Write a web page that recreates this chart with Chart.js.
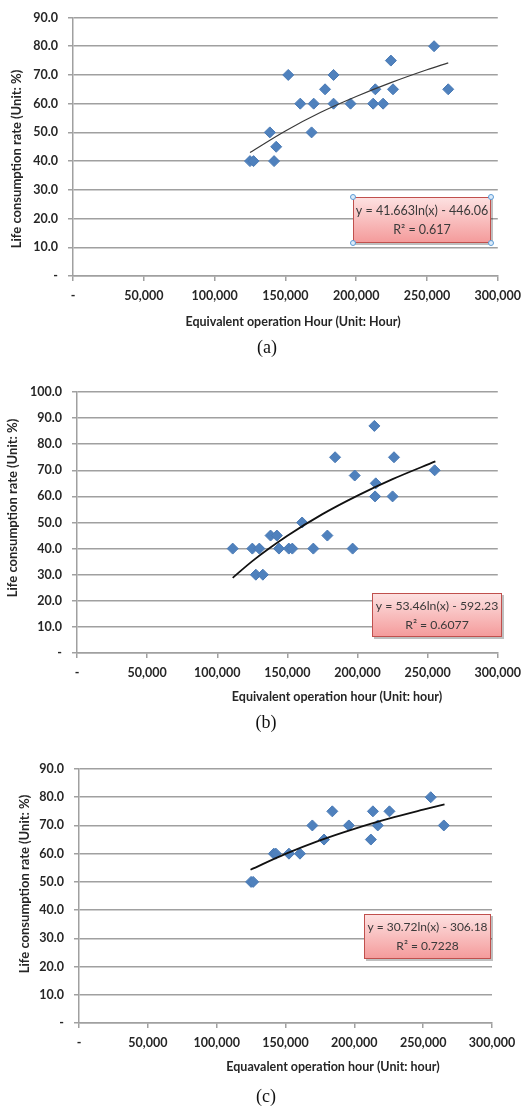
<!DOCTYPE html>
<html lang="en">
<head>
  <meta charset="UTF-8" />
  <title>Life consumption rate vs equivalent operation hour</title>
  <script src="https://cdn.jsdelivr.net/npm/chart.js"></script>
  <style>
    body {
      margin: 0;
      background: #ffffff;
      width: 528px;
      height: 1108px;
      position: relative;
      overflow: hidden;
    }
    canvas {
      position: absolute;
      left: 0;
    }
    .caption {
      position: absolute;
      width: 60px;
      text-align: center;
      font-family: "Liberation Serif", "Times New Roman", serif;
      font-size: 18px;
      color: #111;
      line-height: 20px;
    }
  </style>
</head>
<body>

  <canvas id="chartA" width="528" height="360" style="top:0px"></canvas>
  <canvas id="chartB" width="528" height="370" style="top:360px"></canvas>
  <canvas id="chartC" width="528" height="378" style="top:730px"></canvas>

  <div class="caption" style="left:237px; top:337px">(a)</div>
  <div class="caption" style="left:236px; top:712px">(b)</div>
  <div class="caption" style="left:236px; top:1086px">(c)</div>

  <script>
    // (a) measured points
    const aHours = [125000, 127500, 139000, 142000, 143500, 152000, 160500, 168500, 170000, 178000,
                    184000, 184000, 196000, 212000, 213500, 219000, 224500, 226000, 255000, 265000];
    const aRate  = [40, 40, 50, 40, 45, 70, 60, 50, 60, 65,
                    70, 60, 60, 60, 65, 60, 75, 65, 80, 65];
    const aTrendHours = [125000, 150000, 175000, 200000, 225000, 250000, 265000];
    const aTrendRate  = [43.0, 50.5, 57.0, 62.5, 67.4, 71.8, 74.2];

    // (b) measured points
    const bHours = [111000, 125000, 130000, 127500, 132500, 138000, 142500, 144000, 151000, 153500,
                    160500, 168500, 178500, 184000, 196500, 198000, 212000, 212500, 213000, 225000,
                    226000, 255000];
    const bRate  = [40, 40, 40, 30, 30, 45, 45, 40, 40, 40,
                    50, 40, 45, 75, 40, 68, 87, 60, 65, 60,
                    75, 70];
    const bTrendHours = [111000, 125000, 150000, 175000, 200000, 225000, 255500];
    const bTrendRate  = [28.8, 35.2, 44.9, 53.2, 60.3, 66.6, 73.4];

    // (c) measured points
    const cHours = [125000, 126500, 141500, 143000, 152500, 160500, 169500, 178000, 184000, 196000,
                    212000, 213500, 217000, 225500, 255500, 265000];
    const cRate  = [50, 50, 60, 60, 60, 60, 70, 65, 75, 70,
                    65, 75, 70, 75, 80, 70];
    const cTrendHours = [124600, 150000, 175000, 200000, 225000, 250000, 265500];
    const cTrendRate  = [54.3, 59.9, 64.7, 68.8, 72.4, 75.6, 77.5];

    const xTicks = [0, 50000, 100000, 150000, 200000, 250000, 300000];
    const yTitle = 'Life consumption rate (Unit: %)';

    const toPoints = (xs, ys) => xs.map((x, i) => ({ x: x, y: ys[i] }));

    const fontFamily = 'Lato, "Open Sans", sans-serif';
    const labelFont = { family: fontFamily, size: 12.5, weight: 'bold' };
    const gridGray = '#a0a0a0';

    // axis titles and the trendline equation box
    const extrasPlugin = {
      id: 'extras',
      afterDraw(chart, args, opts) {
        const ctx = chart.ctx;
        ctx.save();
        ctx.fillStyle = '#262626';
        ctx.textAlign = 'center';
        ctx.textBaseline = 'middle';
        ctx.font = 'bold 12.5px ' + fontFamily;
        ctx.fillText(opts.xTitle.text, opts.xTitle.x, opts.xTitle.y);
        ctx.save();
        ctx.font = 'bold 13px ' + fontFamily;
        ctx.translate(opts.yTitle.x, opts.yTitle.y);
        ctx.rotate(-Math.PI / 2);
        ctx.fillText(opts.yTitle.text, 0, 0);
        ctx.restore();

        const b = opts.box;
        ctx.fillStyle = 'rgba(0,0,0,0.25)';
        ctx.fillRect(b.x + 2, b.y + 2, b.w, b.h);
        const g = ctx.createLinearGradient(0, b.y, 0, b.y + b.h);
        g.addColorStop(0, '#fde2e2');
        g.addColorStop(1, '#f49a9a');
        ctx.fillStyle = g;
        ctx.fillRect(b.x, b.y, b.w, b.h);
        ctx.strokeStyle = '#c0504d';
        ctx.lineWidth = 1;
        ctx.strokeRect(b.x + 0.5, b.y + 0.5, b.w - 1, b.h - 1);

        // shrink the equation text until it fits inside the box
        let size = 14;
        ctx.font = size + 'px ' + fontFamily;
        while (size > 9 && ctx.measureText(b.lines[0]).width > b.w - 5) {
          size -= 0.25;
          ctx.font = size + 'px ' + fontFamily;
        }
        ctx.fillStyle = '#3a3a3a';
        b.lines.forEach((t, i) => {
          ctx.fillText(t, b.x + b.w / 2, b.y + b.h * (i === 0 ? 0.3 : 0.72));
        });
        if (b.handles) {
          ctx.fillStyle = '#dcebfa';
          ctx.strokeStyle = '#5b9bd5';
          [[b.x, b.y], [b.x + b.w, b.y], [b.x, b.y + b.h], [b.x + b.w, b.y + b.h]].forEach(p => {
            ctx.beginPath();
            ctx.arc(p[0], p[1], 2.5, 0, Math.PI * 2);
            ctx.fill();
            ctx.stroke();
          });
        }
        ctx.restore();
      }
    };

    function makeChart(id, cfg) {
      const ctx = document.getElementById(id).getContext('2d');
      return new Chart(ctx, {
        type: 'scatter',
        data: {
          datasets: [
            {
              label: 'Log trend',
              type: 'line',
              data: toPoints(cfg.trendX, cfg.trendY),
              borderColor: cfg.trendColor,
              borderWidth: cfg.trendWidth,
              pointRadius: 0,
              fill: false,
              cubicInterpolationMode: 'monotone'
            },
            {
              label: 'Life consumption rate',
              data: toPoints(cfg.hours, cfg.rate),
              pointStyle: 'rectRot',
              pointRadius: 5.5,
              pointHoverRadius: 5.5,
              backgroundColor: '#4f81bd',
              borderColor: '#4a7ab5',
              borderWidth: 1
            }
          ]
        },
        options: {
          responsive: false,
          animation: false,
          layout: { padding: { left: 0, top: cfg.top, right: cfg.right, bottom: 0 } },
          plugins: {
            legend: { display: false },
            tooltip: { enabled: false },
            extras: cfg.extras
          },
          scales: {
            x: {
              type: 'linear',
              min: 0,
              max: 300000,
              afterBuildTicks: s => { s.ticks = xTicks.map(v => ({ value: v })); },
              afterFit: s => { s.height = cfg.xHeight; },
              ticks: {
                color: '#262626',
                font: labelFont,
                padding: 7,
                maxRotation: 0,
                callback: v => v === 0 ? '-' : v.toLocaleString('en-US')
              },
              grid: { drawOnChartArea: false, color: gridGray, lineWidth: 1.5, tickLength: 5 },
              border: { color: gridGray, width: 1.5 }
            },
            y: {
              min: 0,
              max: cfg.yMax,
              afterFit: s => { s.width = cfg.yWidth; },
              ticks: {
                stepSize: 10,
                color: '#262626',
                font: labelFont,
                padding: 10,
                callback: v => v === 0 ? '-' : v.toFixed(1)
              },
              grid: { color: gridGray, lineWidth: 1.5, tickLength: 5 },
              border: { color: gridGray, width: 1.5 }
            }
          }
        },
        plugins: [extrasPlugin]
      });
    }

    makeChart('chartA', {
      hours: aHours, rate: aRate, trendX: aTrendHours, trendY: aTrendRate,
      trendColor: '#3a3a3a', trendWidth: 1.2, yMax: 90,
      top: 12, right: 28, yWidth: 73, xHeight: 84,
      extras: {
        xTitle: { text: 'Equivalent operation Hour (Unit: Hour)', x: 293, y: 322 },
        yTitle: { text: yTitle, x: 17, y: 159 },
        box: { x: 353, y: 197, w: 138, h: 46, handles: true,
               lines: ['y = 41.663ln(x) - 446.06', 'R\u00b2 = 0.617'] }
      }
    });

    makeChart('chartB', {
      hours: bHours, rate: bRate, trendX: bTrendHours, trendY: bTrendRate,
      trendColor: '#111111', trendWidth: 1.8, yMax: 100,
      top: 32, right: 26, yWidth: 77, xHeight: 77,
      extras: {
        xTitle: { text: 'Equivalent operation hour (Unit: hour)', x: 337, y: 337 },
        yTitle: { text: yTitle, x: 13, y: 148 },
        box: { x: 372, y: 233, w: 130, h: 44, handles: false,
               lines: ['y = 53.46ln(x) - 592.23', 'R\u00b2 = 0.6077'] }
      }
    });

    makeChart('chartC', {
      hours: cHours, rate: cRate, trendX: cTrendHours, trendY: cTrendRate,
      trendColor: '#111111', trendWidth: 1.8, yMax: 90,
      top: 39, right: 36, yWidth: 79, xHeight: 85,
      extras: {
        xTitle: { text: 'Equavalent operation hour (Unit: hour)', x: 333, y: 337 },
        yTitle: { text: yTitle, x: 25, y: 154 },
        box: { x: 364, y: 184, w: 127, h: 45, handles: false,
               lines: ['y = 30.72ln(x) - 306.18', 'R\u00b2 = 0.7228'] }
      }
    });
  </script>
</body>
</html>
